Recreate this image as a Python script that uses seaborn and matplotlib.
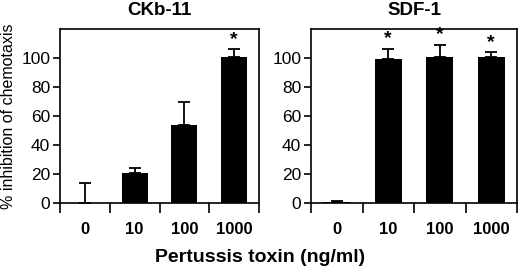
import matplotlib
matplotlib.use("Agg")
import matplotlib.pyplot as plt
import seaborn as sns
import numpy as np

sns.set_style("ticks")
plt.rcParams['font.family'] = ['Liberation Sans', 'DejaVu Sans']
plt.rcParams.update({"text.color": "black", "axes.labelcolor": "black",
                     "xtick.color": "black", "ytick.color": "black",
                     "axes.edgecolor": "black"})

doses = ["0", "10", "100", "1000"]
ckb_vals = [0, 20.5, 54, 101]
ckb_err = [14, 3.5, 16, 5]
ckb_sig = [False, False, False, True]
sdf_vals = [0.5, 99.5, 100.5, 100.5]
sdf_err = [1.2, 7, 8.5, 3.5]
sdf_sig = [False, True, True, True]
titles = ["CKb-11", "SDF-1"]
yticks = [0, 20, 40, 60, 80, 100]

fig = plt.figure(figsize=(5.2, 2.75), dpi=100)
ax1 = fig.add_axes([60/520, 1-203/275, 199/520, 174/275])
ax2 = fig.add_axes([311/520, 1-203/275, 206/520, 174/275])

for ax, vals, errs, sig, title in [(ax1, ckb_vals, ckb_err, ckb_sig, titles[0]),
                                    (ax2, sdf_vals, sdf_err, sdf_sig, titles[1])]:
    sns.barplot(x=doses, y=vals, color="black", width=0.52, ax=ax,
                saturation=1, edgecolor="black", linewidth=0)
    x = np.arange(len(doses))
    ax.errorbar(x, vals, yerr=[np.zeros(len(vals)), errs], fmt="none",
                ecolor="black", elinewidth=1.3, capsize=4, capthick=1.3)
    for xi, v, e, s in zip(x, vals, errs, sig):
        if s:
            ax.text(xi, v + e + 1, "*", ha="center", va="bottom",
                    fontsize=14, fontweight="bold")
    ax.set_xlim(-0.5, 3.5)
    ax.set_ylim(0, 120)
    ax.set_yticks(yticks)
    ax.tick_params(axis="y", labelsize=12.5, length=5, width=1.2, direction="out", pad=2)
    ax.set_xticks(x)
    ax.set_xticklabels(doses, fontweight="bold", fontsize=12)
    ax.tick_params(axis="x", which="major", length=0, pad=14)
    ax.set_xticks(np.arange(-0.5, 4, 1), minor=True)
    ax.tick_params(axis="x", which="minor", length=7, width=1.2, direction="out")
    for sp in ax.spines.values():
        sp.set_linewidth(1.2)
        sp.set_visible(True)
    ax.set_title(title, fontweight="bold", fontsize=13.5, pad=10)
    ax.set_xlabel("")

ax1.set_ylabel("% inhibition of chemotaxis", fontsize=11.5, labelpad=4)
fig.text(0.5, 1-258/275, "Pertussis toxin (ng/ml)", ha="center", va="center",
         fontsize=14, fontweight="bold")

fig.savefig("out.png", dpi=100)
